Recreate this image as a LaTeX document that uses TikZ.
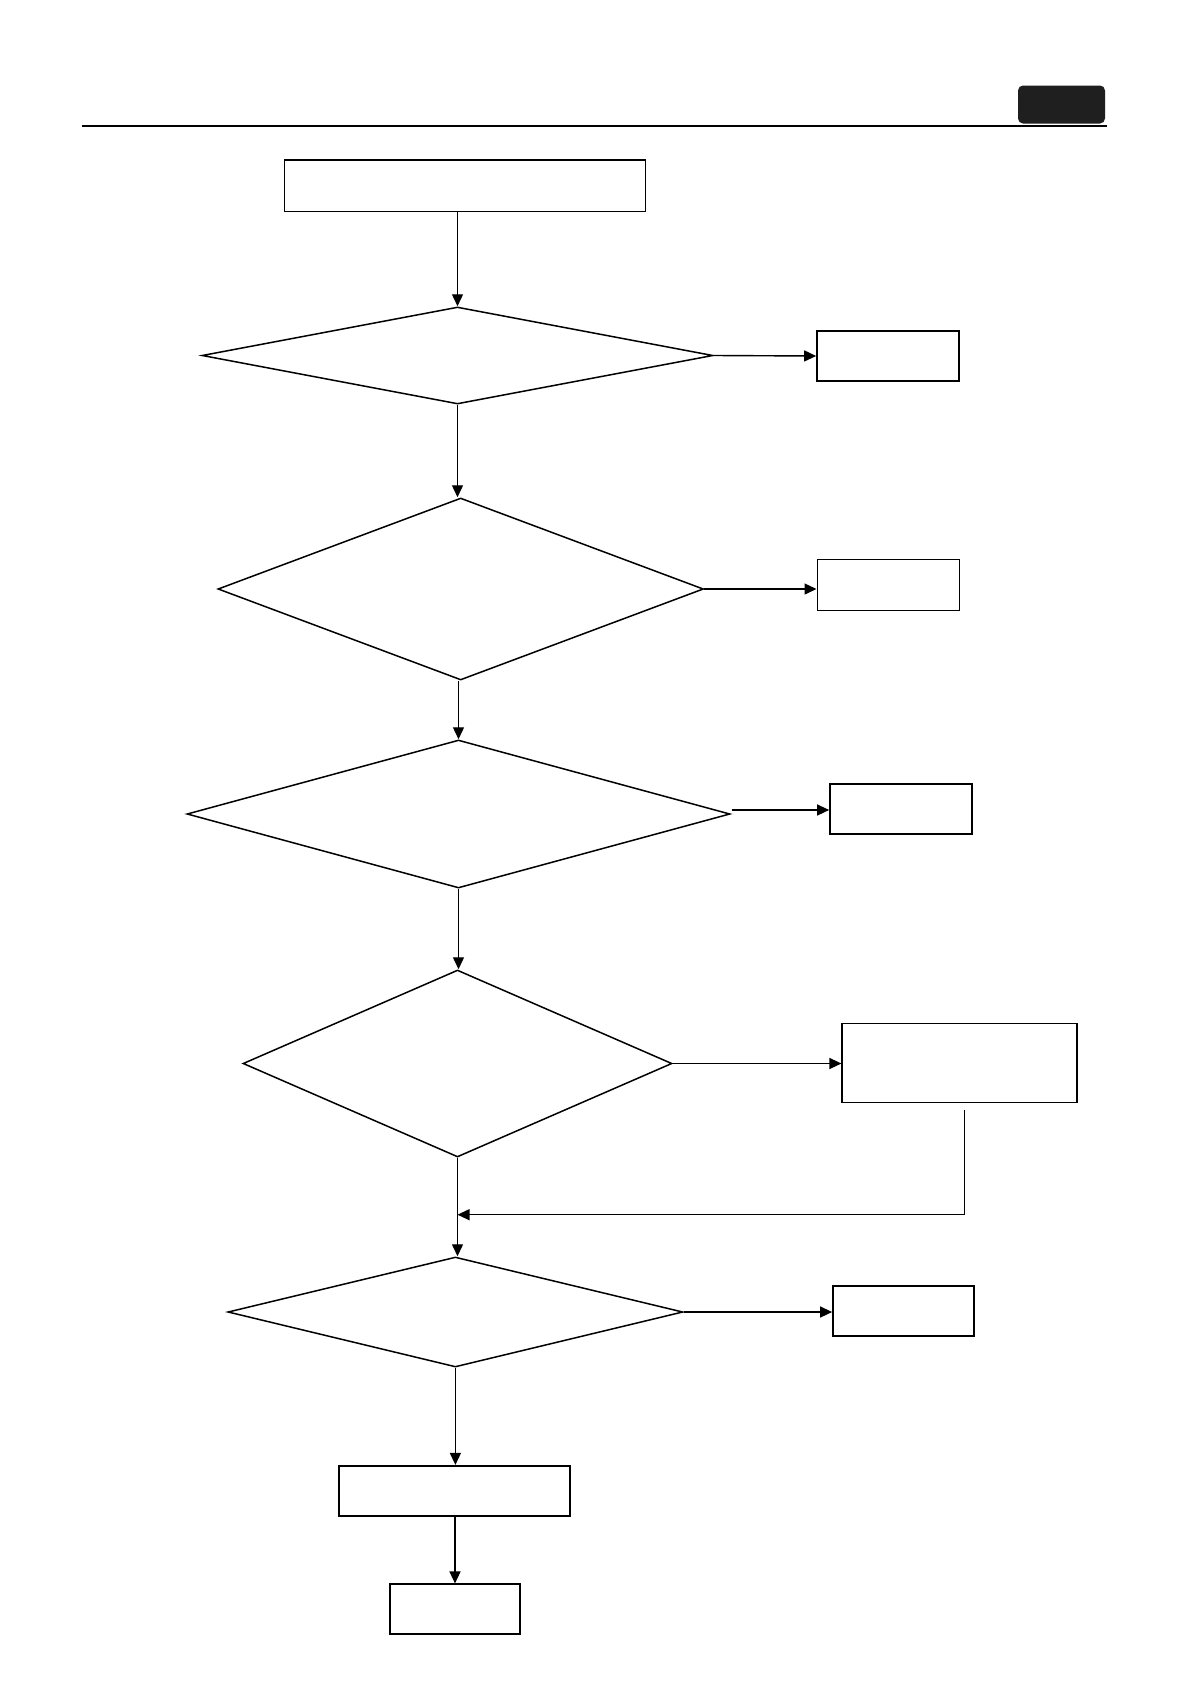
\documentclass[tikz,border=0pt]{standalone}
\usetikzlibrary{shapes.geometric,arrows.meta}
\begin{document}
\begin{tikzpicture}[x=1pt,y=-1pt,
  box/.style={draw,line width=1.7pt,inner sep=0pt,rectangle},
  dia/.style={draw,line width=1.5pt,inner sep=0pt,diamond},
  arr/.style={line width=1.4pt,-{Triangle[length=12pt,width=11pt]}},
  ln/.style={line width=1.4pt}]
\useasboundingbox[fill=white] (0,0) rectangle (1190,1684);
% header
\coordinate (hl) at (81.6,125.7);
\coordinate (hr) at (1107,125.7);
\draw[line width=2.4pt] (hl) -- (hr);
\node[fill=black!88,rounded corners=5pt,minimum width=87pt,minimum height=38pt,inner sep=0pt] (tab) at (1061.5,104.5) {};
% nodes
\node[box,minimum width=361pt,minimum height=51.6pt] (b1) at (465,185.8) {};
\node[dia,minimum width=511pt,minimum height=97pt] (d1) at (457.5,355.5) {};
\node[box,minimum width=142pt,minimum height=50pt] (r1) at (888,356) {};
\node[dia,minimum width=485.5pt,minimum height=182pt] (d2) at (460.7,589) {};
\node[box,line width=1pt,minimum width=142pt,minimum height=51pt] (r2) at (888,585.3) {};
\node[dia,minimum width=543pt,minimum height=148pt] (d3) at (458.5,814) {};
\node[box,minimum width=142pt,minimum height=50.5pt] (r3) at (901,809) {};
\node[dia,minimum width=429pt,minimum height=187pt] (d4) at (457.5,1063.5) {};
\node[box,line width=1.2pt,minimum width=235pt,minimum height=79.5pt] (r4) at (959.5,1063) {};
\node[dia,minimum width=455pt,minimum height=110pt] (d5) at (455.4,1312) {};
\node[box,minimum width=141pt,minimum height=50.5pt] (r5) at (903.5,1311) {};
\node[box,minimum width=231pt,minimum height=50.5pt] (r6) at (454.5,1491) {};
\node[box,minimum width=130pt,minimum height=49.5pt] (r7) at (455,1609) {};
% connectors
\draw[arr] (b1.south -| d1.north) -- (d1.north);
\draw[arr] (d1.east) -- (r1.west);
\draw[arr] (d1.south) -- (d2.north -| d1.south);
\draw[arr] (d2.east) -- (r2.west |- d2.east);
\draw[arr] (d2.south -| d3.north) -- (d3.north);
\coordinate (a3s) at (731.5,810);
\draw[arr] (a3s) -- (r3.west |- a3s);
\draw[arr] (d3.south) -- (d4.north -| d3.south);
\draw[arr] (d4.east) -- (r4.west |- d4.east);
\draw[arr] (d4.south) -- (d5.north -| d4.south);
\coordinate (fb0) at (964.5,1109.5);
\coordinate (fb1) at (964.5,1214.7);
\draw[ln,-{Triangle[length=12pt,width=11pt]}] (fb0) -- (fb1) -- (fb1 -| d4.south);
\draw[arr] (d5.east) -- (r5.west |- d5.east);
\draw[arr] (d5.south) -- (r6.north -| d5.south);
\draw[arr] (r6.south -| r7.north) -- (r7.north);
\end{tikzpicture}
\end{document}
